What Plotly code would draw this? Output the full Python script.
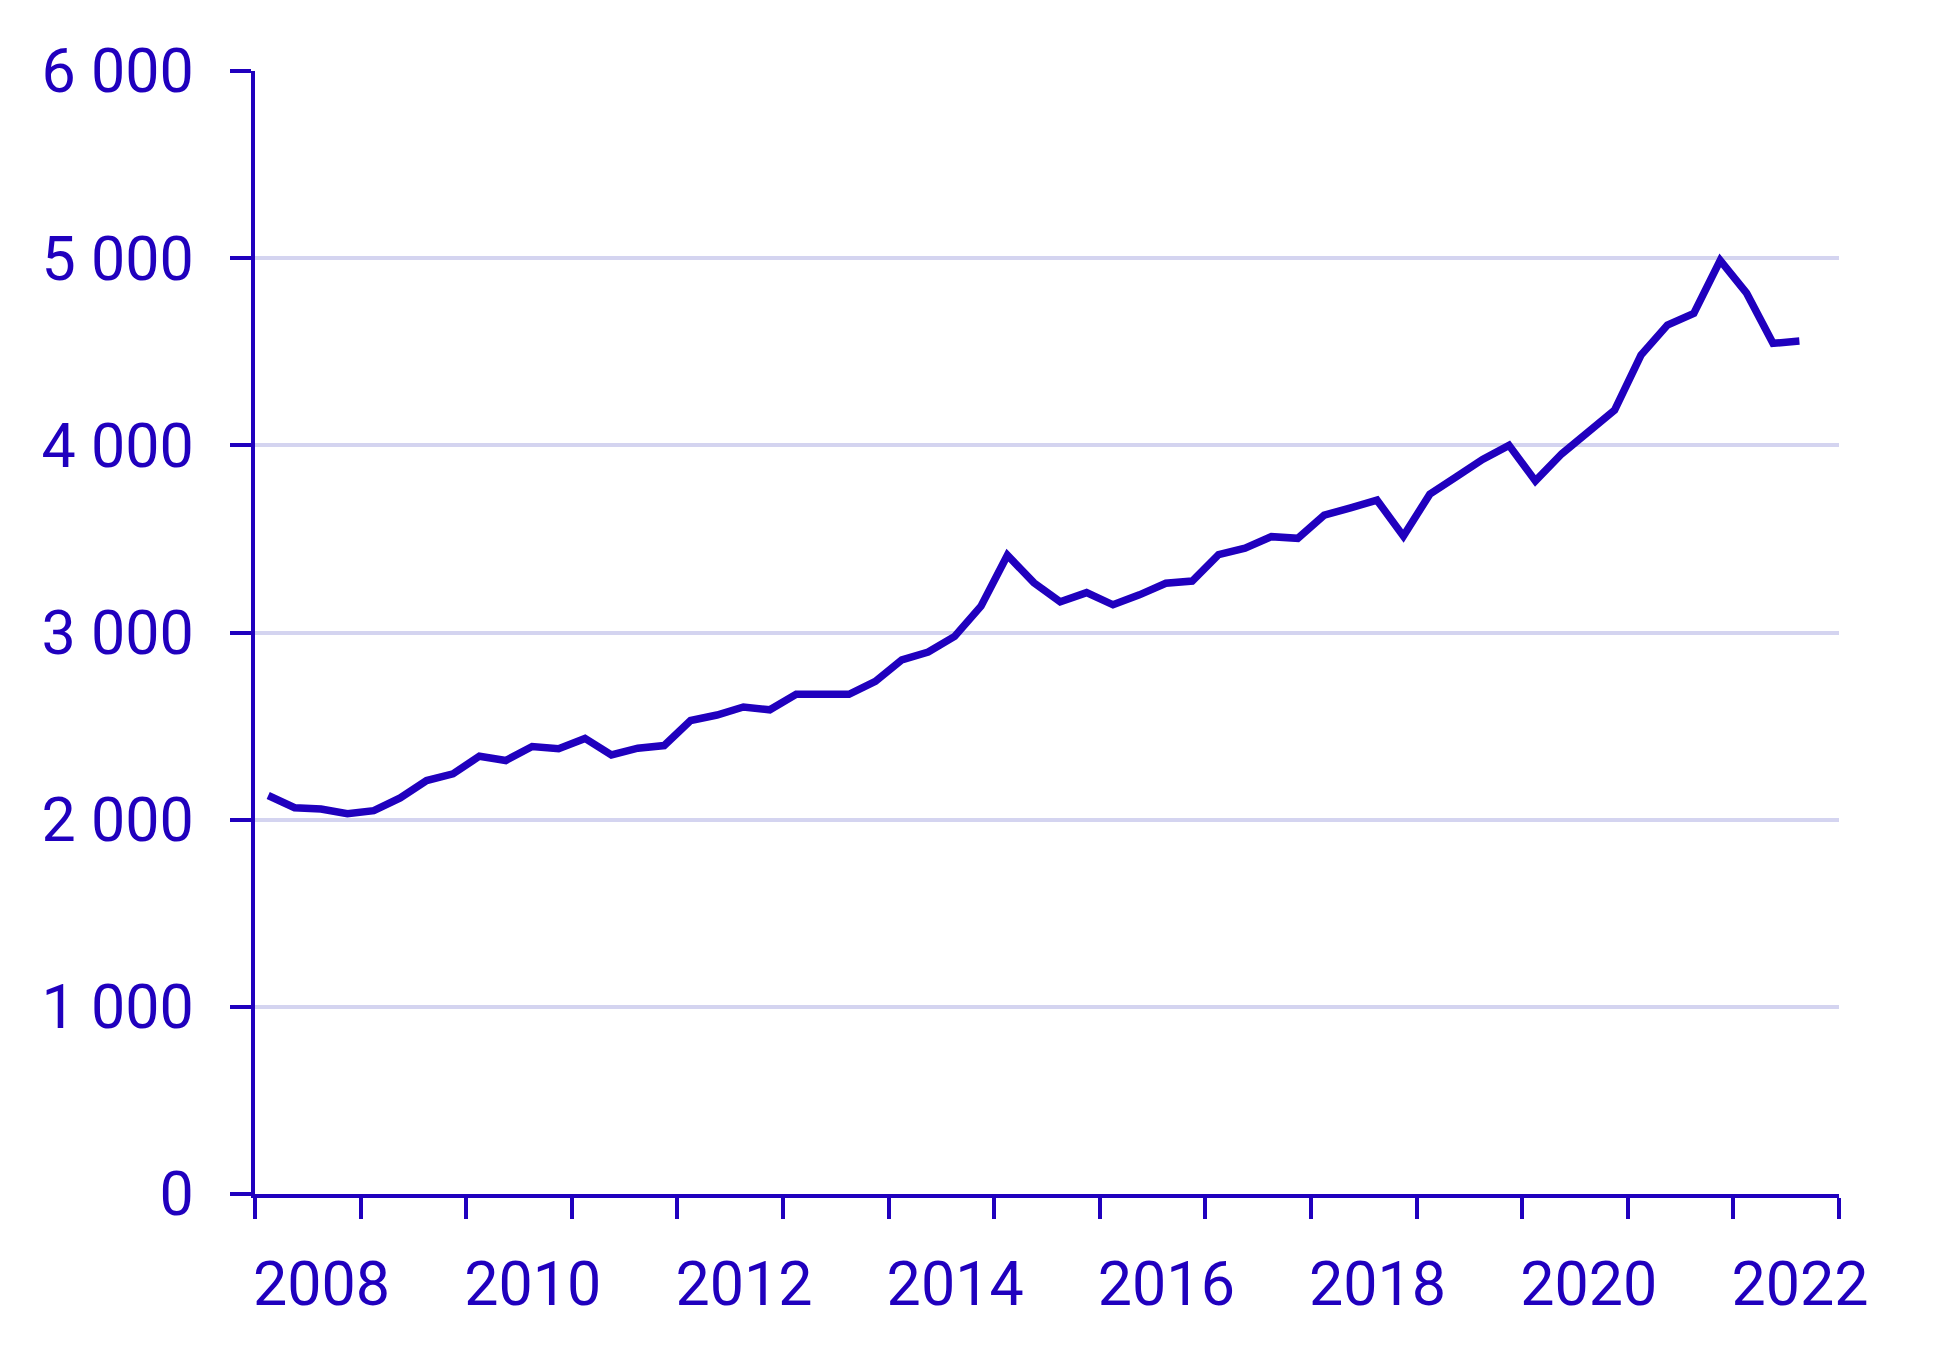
import plotly.graph_objects as go

# Quarterly series, 2008 Q1 .. 2022 Q3
start_year = 2008
values = [
    2129, 2064, 2057, 2032, 2048, 2116, 2209, 2245,
    2339, 2316, 2391, 2379, 2434, 2346, 2382, 2396,
    2530, 2559, 2602, 2587, 2670, 2670, 2670, 2739,
    2854, 2896, 2979, 3141, 3413, 3266, 3164, 3213,
    3148, 3201, 3263, 3275, 3416, 3451, 3512, 3503,
    3627, 3666, 3707, 3515, 3739, 3831, 3925, 4000,
    3810, 3955, 4077, 4188, 4482, 4643, 4705, 4988,
    4813, 4545, 4557,
]
quarters = [(start_year + i // 4, i % 4 + 1) for i in range(len(values))]
x_pos = [y + (q - 0.5) / 4 for (y, q) in quarters]

year_ticks = list(range(2008, 2024))
year_labels = [str(y) if y % 2 == 0 and y < 2023 else "" for y in year_ticks]
y_ticks = [0, 1000, 2000, 3000, 4000, 5000, 6000]
y_labels = ["0", "1 000", "2 000", "3 000", "4 000", "5 000", "6 000"]

COLOR = "#2000BE"
GRID = "#D4D4F0"

fig = go.Figure()
fig.add_trace(go.Scatter(
    x=x_pos, y=values, mode="lines",
    line=dict(color=COLOR, width=7.5),
    hoverinfo="skip", showlegend=False,
))

# page body has an 8px default margin, so the figure is offset by 8px
fig.update_layout(
    width=1952, height=1351,
    margin=dict(l=247, r=121, t=63, b=165),
    paper_bgcolor="white", plot_bgcolor="white",
    font=dict(family="Roboto", size=61, color=COLOR),
    showlegend=False,
)
fig.update_xaxes(
    range=[2008, 2023],
    tickmode="array", tickvals=year_ticks, ticktext=year_labels,
    ticks="outside", ticklen=21, tickwidth=4, tickcolor=COLOR,
    showline=True, linecolor=COLOR, linewidth=4,
    showgrid=False, zeroline=False,
    ticklabelposition="outside right",
    ticklabelstandoff=34,
    ticklabelshift=-6,
)
fig.update_yaxes(
    range=[0, 6000],
    tickmode="array", tickvals=y_ticks, ticktext=y_labels,
    ticks="outside", ticklen=21, tickwidth=4, tickcolor=COLOR,
    showline=True, linecolor=COLOR, linewidth=4,
    showgrid=True, gridcolor=GRID, gridwidth=4,
    zeroline=False,
    ticklabelstandoff=24,
)

fig.write_html("out.html")
